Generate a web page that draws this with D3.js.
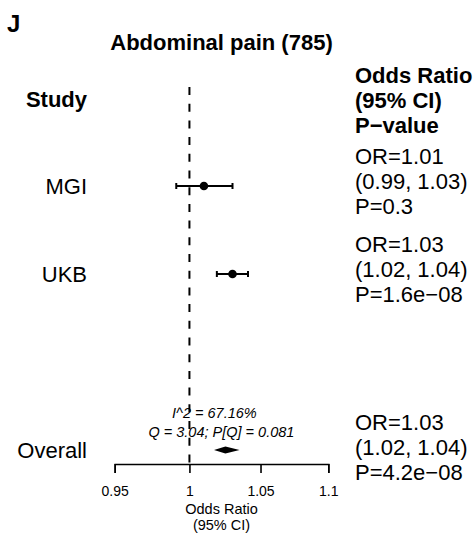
<!DOCTYPE html>
<html lang="en">
<head>
    <meta charset="UTF-8">
    <script src="https://d3js.org/d3.v7.min.js"></script>
    <title>Abdominal pain forest plot</title>
    <style>
        body { margin: 0; background: #fff; }
        text { font-family: "Liberation Sans", Arial, Helvetica, sans-serif; fill: #000; }
    </style>
</head>
<body>
    <div id="chart"></div>
    <script>
        // study rows
        const studies = ["MGI", "UKB"];
        const estimates = [1.010, 1.030];
        const lowers = [0.991, 1.019];
        const uppers = [1.030, 1.041];
        const studyText = [
            ["OR=1.01", "(0.99, 1.03)", "P=0.3"],
            ["OR=1.03", "(1.02, 1.04)", "P=1.6e\u221208"]
        ];

        // pooled estimate
        const overallEst = 1.025;
        const overallLower = 1.017;
        const overallUpper = 1.035;
        const overallText = ["OR=1.03", "(1.02, 1.04)", "P=4.2e\u221208"];
        const hetText = ["I^2 = 67.16%", "Q = 3.04; P[Q] = 0.081"];

        const tickValues = [0.95, 1, 1.05, 1.1];
        const headerText = ["Odds Ratio", "(95% CI)", "P\u2212value"];

        const width = 476, height = 537;
        const svg = d3.select("#chart").append("svg")
            .attr("width", width)
            .attr("height", height);

        const x = d3.scaleLog()
            .domain([0.95, 1.1])
            .range([114.7, 328.3]);

        // row 0 = header, 1..2 = studies, 4 = overall
        const y = d3.scaleLinear()
            .domain([0, 1])
            .range([98, 186]);
        const axisY = 464;
        const labelX = 87, textX = 355;

        svg.append("text")
            .attr("x", 7).attr("y", 32)
            .attr("font-size", "24px").attr("font-weight", "bold")
            .text("J");

        svg.append("text")
            .attr("x", (x.range()[0] + x.range()[1]) / 2).attr("y", 50)
            .attr("text-anchor", "middle")
            .attr("font-size", "22px").attr("font-weight", "bold")
            .text("Abdominal pain (785)");

        // headers
        svg.append("text")
            .attr("x", labelX).attr("y", y(0) + 9)
            .attr("text-anchor", "end")
            .attr("font-size", "22px").attr("font-weight", "bold")
            .text("Study");

        svg.selectAll(".hdr")
            .data(headerText)
            .enter()
            .append("text")
            .attr("x", textX)
            .attr("y", (d, i) => y(0) + 10 + (i - 1) * 25)
            .attr("font-size", "22px").attr("font-weight", "bold")
            .text(d => d);

        // null line
        svg.append("line")
            .attr("x1", x(1)).attr("x2", x(1))
            .attr("y1", 87).attr("y2", axisY)
            .attr("stroke", "#000")
            .attr("stroke-width", 2)
            .attr("stroke-dasharray", "8,8.7");

        const rows = studies.map((s, i) => ({
            name: s, est: estimates[i], lo: lowers[i], hi: uppers[i], txt: studyText[i], row: i + 1
        }));

        svg.selectAll(".lbl")
            .data(rows.concat([{ name: "Overall", row: 4 }]))
            .enter()
            .append("text")
            .attr("x", labelX)
            .attr("y", d => y(d.row) + 8)
            .attr("text-anchor", "end")
            .attr("font-size", "22px")
            .text(d => d.name);

        const g = svg.selectAll(".ci")
            .data(rows)
            .enter()
            .append("g");

        g.append("line")
            .attr("x1", d => x(d.lo)).attr("x2", d => x(d.hi))
            .attr("y1", d => y(d.row)).attr("y2", d => y(d.row))
            .attr("stroke", "#000").attr("stroke-width", 2);

        ["lo", "hi"].forEach(k => {
            g.append("line")
                .attr("x1", d => x(d[k])).attr("x2", d => x(d[k]))
                .attr("y1", d => y(d.row) - 3).attr("y2", d => y(d.row) + 3)
                .attr("stroke", "#000").attr("stroke-width", 2);
        });

        g.append("circle")
            .attr("cx", d => x(d.est))
            .attr("cy", d => y(d.row))
            .attr("r", 4.3)
            .attr("fill", "#000");

        // OR text for each row
        rows.forEach(d => {
            svg.selectAll(null)
                .data(d.txt)
                .enter()
                .append("text")
                .attr("x", textX)
                .attr("y", (t, i) => y(d.row) + 3 + (i - 1) * 25)
                .attr("font-size", "22px")
                .text(t => t);
        });

        svg.selectAll(".ovt")
            .data(overallText)
            .enter()
            .append("text")
            .attr("x", textX)
            .attr("y", (t, i) => y(4) + 5 + (i - 1) * 25)
            .attr("font-size", "22px")
            .text(t => t);

        // diamond
        const dy = y(4);
        svg.append("path")
            .attr("d", `M${x(overallLower)},${dy}L${x(overallEst)},${dy - 3.5}L${x(overallUpper)},${dy}L${x(overallEst)},${dy + 3.5}Z`)
            .attr("fill", "#000");

        // heterogeneity
        svg.selectAll(".het")
            .data(hetText)
            .enter()
            .append("text")
            .attr("x", (t, i) => x(overallEst) + (i === 0 ? -11 : -4))
            .attr("y", (t, i) => 418 + i * 19)
            .attr("text-anchor", "middle")
            .attr("font-size", "14.5px")
            .attr("font-style", "italic")
            .text(t => t);

        // axis
        const axis = svg.append("g")
            .attr("transform", `translate(0,${axisY})`)
            .call(d3.axisBottom(x)
                .tickValues(tickValues)
                .tickFormat(d => d)
                .tickSize(9)
                .tickPadding(13));
        axis.select(".domain").attr("stroke-width", 1.6);
        axis.selectAll(".tick line").attr("stroke-width", 1.6);
        axis.selectAll("text")
            .attr("font-size", "14px")
            .attr("font-family", "Liberation Sans, Arial, sans-serif");

        const midX = (x.range()[0] + x.range()[1]) / 2;
        ["Odds Ratio", "(95% CI)"].forEach((t, i) => {
            svg.append("text")
                .attr("x", midX).attr("y", 514 + i * 16)
                .attr("text-anchor", "middle")
                .attr("font-size", "14.5px")
                .text(t);
        });
    </script>
</body>
</html>
